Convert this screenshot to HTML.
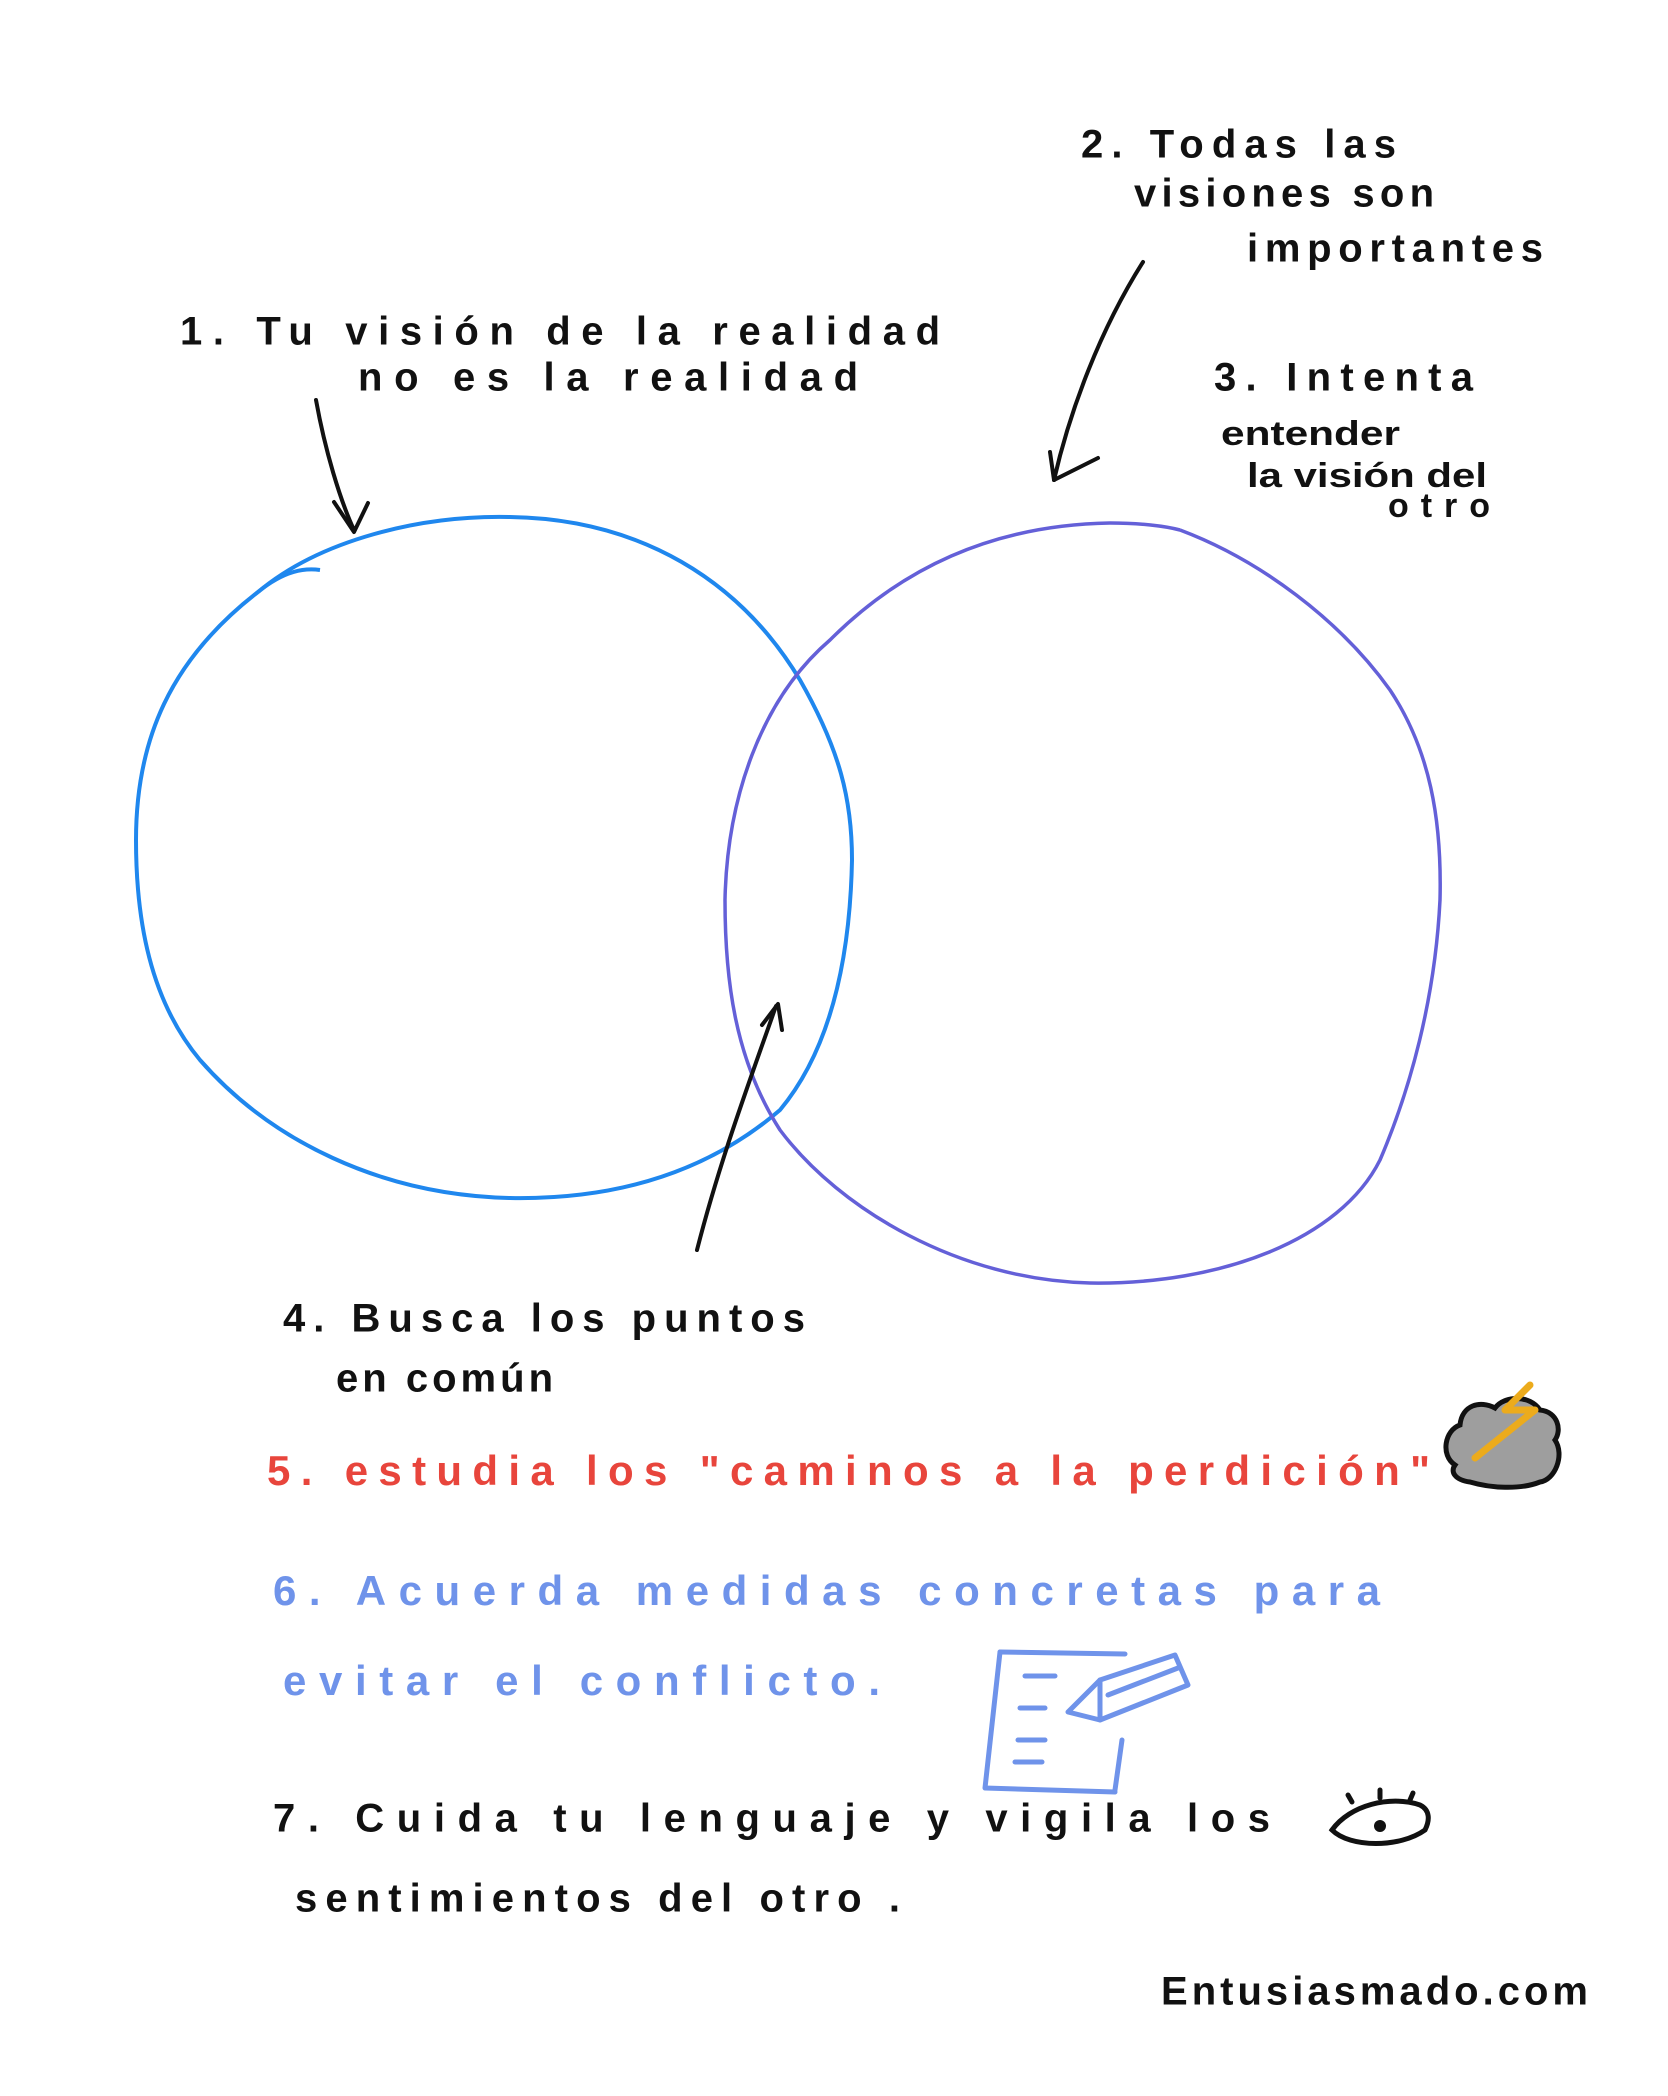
<!DOCTYPE html>
<html><head><meta charset="utf-8"><style>
html,body{margin:0;padding:0;background:#fff}
svg{display:block}
text{font-family:"Liberation Sans",sans-serif;dominant-baseline:middle;font-weight:bold}
</style></head><body>
<svg width="1668" height="2096" viewBox="0 0 1668 2096" xmlns="http://www.w3.org/2000/svg">
<rect width="1668" height="2096" fill="#fff"/>
<!-- circles -->
<path d="M258,592 C320,540 420,515 510,517 C640,519 740,580 800,680 C840,750 852,800 852,860 C850,960 830,1050 780,1110 C710,1170 620,1200 510,1198 C380,1195 270,1140 200,1060 C150,1000 136,920 136,840 C136,740 170,660 258,592" fill="none" stroke="#1f87ee" stroke-width="4"/>
<path d="M258,592 C285,570 305,568 320,570" fill="none" stroke="#1f87ee" stroke-width="4"/>
<path d="M1180,530 C1260,560 1340,620 1390,690 C1430,750 1442,820 1440,900 C1435,1000 1410,1090 1380,1160 C1340,1240 1220,1285 1090,1283 C960,1280 840,1210 780,1130 C735,1060 725,980 725,900 C727,800 760,700 830,640 C900,570 990,525 1110,523 C1140,523 1165,526 1180,530" fill="none" stroke="#6460d8" stroke-width="3.5"/>
<!-- arrows -->
<g fill="none" stroke="#111" stroke-width="4" stroke-linecap="round" stroke-linejoin="round">
<path d="M316,400 C325,450 340,500 354,530"/><path d="M334,502 L354,532 L368,503"/>
<path d="M1143,262 C1100,330 1070,410 1054,480"/><path d="M1050,452 L1054,480 L1098,458"/>
<path d="M697,1250 C720,1160 750,1080 776,1006"/><path d="M762,1025 L778,1004 L782,1030"/>
</g>
<!-- black labels -->
<g fill="#111" font-size="40">
<text x="180" y="334" textLength="760" lengthAdjust="spacing">1.  Tu visión de la realidad</text>
<text x="358" y="380" textLength="500" lengthAdjust="spacing">no es la realidad</text>
<text x="1081" y="147" textLength="315" lengthAdjust="spacing">2. Todas las</text>
<text x="1134" y="196" textLength="300" lengthAdjust="spacing">visiones son</text>
<text x="1247" y="251" textLength="296" lengthAdjust="spacing">importantes</text>
<text x="1214" y="380" textLength="259" lengthAdjust="spacing">3. Intenta</text>
<text x="1221" y="436" font-size="34" textLength="179" lengthAdjust="spacingAndGlyphs">entender</text>
<text x="1247" y="478" font-size="34" textLength="240" lengthAdjust="spacingAndGlyphs">la visión del</text>
<text x="1388" y="508" font-size="34" textLength="102" lengthAdjust="spacing">otro</text>
<text x="283" y="1321" textLength="522" lengthAdjust="spacing">4. Busca los puntos</text>
<text x="336" y="1381" textLength="217" lengthAdjust="spacing">en común</text>
<text x="273" y="1821" textLength="997" lengthAdjust="spacing">7. Cuida tu lenguaje y vigila los</text>
<text x="295" y="1901" textLength="605" lengthAdjust="spacing">sentimientos del otro .</text>
<text x="1161" y="1994" textLength="427" lengthAdjust="spacing">Entusiasmado.com</text>
</g>
<text x="267" y="1474" font-size="42" fill="#e8453c" textLength="1163" lengthAdjust="spacing">5. estudia los "caminos a la perdición"</text>
<g fill="#6f93ea" font-size="42">
<text x="273" y="1594" textLength="1107" lengthAdjust="spacing">6. Acuerda medidas concretas para</text>
<text x="283" y="1684" textLength="597" lengthAdjust="spacing">evitar el conflicto.</text>
</g>
<!-- cloud -->
<path d="M1455,1465 C1440,1455 1445,1430 1460,1425 C1462,1405 1480,1400 1495,1408 C1505,1395 1530,1395 1540,1410 C1558,1412 1562,1430 1555,1440 C1565,1455 1555,1480 1540,1482 C1520,1490 1490,1488 1470,1482 C1455,1480 1450,1472 1455,1465Z" fill="#9e9e9e" stroke="#111" stroke-width="5"/>
<path d="M1530,1385 L1505,1410 L1535,1410 L1475,1458" fill="none" stroke="#ecab1c" stroke-width="7" stroke-linecap="round" stroke-linejoin="round"/>
<!-- notepad -->
<g fill="none" stroke="#6f93ea" stroke-width="5" stroke-linecap="round" stroke-linejoin="round">
<path d="M1000,1652 L1125,1654"/><path d="M1000,1652 L985,1788 L1115,1792"/><path d="M1122,1740 L1115,1790"/>
<path d="M1025,1676 L1055,1676"/><path d="M1020,1708 L1045,1708"/><path d="M1018,1740 L1045,1740"/><path d="M1015,1762 L1042,1762"/>
<path d="M1068,1712 L1100,1680 L1175,1655 L1188,1685 L1100,1720 Z"/><path d="M1100,1680 L1100,1720"/><path d="M1108,1695 L1178,1668"/>
</g>
<!-- eye -->
<g fill="none" stroke="#111" stroke-width="5" stroke-linecap="round">
<path d="M1332,1830 C1350,1805 1390,1795 1420,1805 C1430,1810 1430,1820 1425,1830 C1400,1848 1350,1848 1332,1830Z"/>
<path d="M1352,1802 L1348,1795"/><path d="M1380,1798 L1380,1790"/><path d="M1410,1800 L1413,1793"/>
</g>
<circle cx="1380" cy="1826" r="6" fill="#111"/>
</svg>
</body></html>
